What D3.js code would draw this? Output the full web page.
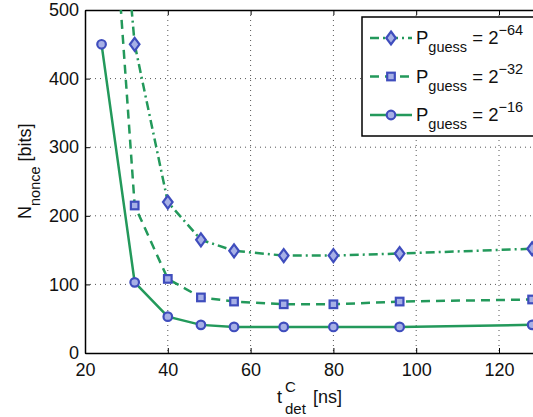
<!DOCTYPE html>
<html>
<head>
<meta charset="utf-8">
<script src="https://cdn.jsdelivr.net/npm/d3@7"></script>
<style>
  html, body { margin: 0; padding: 0; background: #fff; overflow: hidden; }
  svg { display: block; font-family: "Liberation Sans", Arial, sans-serif; }
</style>
</head>
<body>
<svg id="chart" width="533" height="417"></svg>
<script>
// detection time t_det^C [ns]
const tDet = [24, 32, 40, 48, 56, 68, 80, 96, 128];

// N_nonce [bits] per guessing probability
const n64 = [1000, 450, 220, 165, 149, 142, 142, 145, 152];
const n32 = [900, 215, 108, 81, 75, 71, 71, 75, 78];
const n16 = [450, 103, 53, 41, 38, 38, 38, 38, 41];

const xTicks = [20, 40, 60, 80, 100, 120];
const yTicks = [0, 100, 200, 300, 400, 500];

const series = [
    { exp: "\u221264", values: n64, marker: "diamond", dash: "9,4,2,4" },
    { exp: "\u221232", values: n32, marker: "square", dash: "9,6" },
    { exp: "\u221216", values: n16, marker: "circle", dash: null }
];

const GREEN = "#23995b";
const MSTROKE = "#3f4dbd";
const MFILL = "#a7b0e6";

const svg = d3.select("#chart");
const mLeft = 85, mTop = 10, mBottom = 353;

const x = d3.scaleLinear().domain([20, 130]).range([mLeft, mLeft + 110 * 4.14]);
const y = d3.scaleLinear().domain([0, 500]).range([mBottom, mTop]);
const mRight = x(130);

svg.append("defs").append("clipPath").attr("id", "clip")
    .append("rect")
    .attr("x", mLeft).attr("y", mTop)
    .attr("width", mRight - mLeft).attr("height", mBottom - mTop);

// grid
const grid = svg.append("g");
xTicks.slice(1).forEach(t => {
    grid.append("line")
        .attr("x1", x(t)).attr("x2", x(t))
        .attr("y1", mTop).attr("y2", mBottom)
        .attr("stroke", "#555").attr("stroke-width", 1)
        .attr("stroke-dasharray", "1,4");
});
yTicks.slice(1, -1).forEach(t => {
    grid.append("line")
        .attr("x1", mLeft).attr("x2", mRight)
        .attr("y1", y(t)).attr("y2", y(t))
        .attr("stroke", "#555").attr("stroke-width", 1)
        .attr("stroke-dasharray", "1,4");
});

// axes (ticks inside, mirrored)
const axisStyle = g => {
    g.select(".domain").attr("stroke", "#000").attr("stroke-width", 1.5);
    g.selectAll(".tick line").attr("stroke", "#000");
    g.selectAll(".tick text").attr("font-size", 18).attr("fill", "#111")
        .attr("font-family", "Liberation Sans, Arial, sans-serif");
};

svg.append("g")
    .attr("transform", `translate(0,${mBottom})`)
    .call(d3.axisBottom(x).tickValues(xTicks).tickSizeInner(-5).tickSizeOuter(0).tickPadding(10))
    .call(axisStyle);

svg.append("g")
    .attr("transform", `translate(0,${mTop})`)
    .call(d3.axisTop(x).tickValues(xTicks).tickSizeInner(-5).tickSizeOuter(0).tickFormat(""))
    .call(axisStyle);

svg.append("g")
    .attr("transform", `translate(${mLeft},0)`)
    .call(d3.axisLeft(y).tickValues(yTicks).tickSizeInner(-5).tickSizeOuter(0).tickPadding(6))
    .call(axisStyle);

svg.append("g")
    .attr("transform", `translate(${mRight},0)`)
    .call(d3.axisRight(y).tickValues(yTicks).tickSizeInner(-5).tickSizeOuter(0).tickFormat(""))
    .call(axisStyle);

// markers
function drawMarker(g, type, cx, cy) {
    if (type === "circle") {
        g.append("circle").attr("cx", cx).attr("cy", cy).attr("r", 4.3)
            .attr("fill", MFILL).attr("stroke", MSTROKE).attr("stroke-width", 2.2);
    } else if (type === "square") {
        g.append("rect").attr("x", cx - 3.8).attr("y", cy - 3.8).attr("width", 7.6).attr("height", 7.6)
            .attr("fill", MFILL).attr("stroke", MSTROKE).attr("stroke-width", 2.2);
    } else {
        const r = 6.5, w = 4.8;
        g.append("path")
            .attr("d", `M${cx},${cy - r}L${cx + w},${cy}L${cx},${cy + r}L${cx - w},${cy}Z`)
            .attr("fill", MFILL).attr("stroke", MSTROKE).attr("stroke-width", 2.2);
    }
}

const plot = svg.append("g").attr("clip-path", "url(#clip)");
const line = d3.line().x((d, i) => x(tDet[i])).y(d => y(d));

series.forEach(s => {
    plot.append("path")
        .datum(s.values)
        .attr("d", line)
        .attr("fill", "none")
        .attr("stroke", GREEN)
        .attr("stroke-width", 2.5)
        .attr("stroke-dasharray", s.dash);
});
const markerLayer = svg.append("g");
series.forEach(s => {
    s.values.forEach((v, i) => {
        if (v > 500) return;
        drawMarker(markerLayer, s.marker, x(tDet[i]), y(v));
    });
});

// legend
const lg = svg.append("g");
lg.append("rect")
    .attr("x", 362).attr("y", 17).attr("width", 200).attr("height", 119)
    .attr("fill", "#fff").attr("stroke", "#000").attr("stroke-width", 1.5);

series.forEach((s, i) => {
    const ly = 38 + i * 38.5;
    lg.append("line")
        .attr("x1", 370).attr("x2", 412).attr("y1", ly).attr("y2", ly)
        .attr("stroke", GREEN).attr("stroke-width", 2.5)
        .attr("stroke-dasharray", s.dash);
    drawMarker(lg, s.marker, 391, ly);
    const t = lg.append("text")
        .attr("x", 416).attr("y", ly + 6)
        .attr("font-size", 18.5).attr("fill", "#111");
    t.append("tspan").text("P");
    t.append("tspan").attr("font-size", 14.5).attr("dy", 8).text("guess");
    t.append("tspan").attr("dy", -8).text(" = 2");
    t.append("tspan").attr("font-size", 14.5).attr("dy", -9).text(s.exp);
});

// axis labels
const xLabel = svg.append("g").attr("fill", "#111");
xLabel.append("text").attr("x", 277).attr("y", 403).attr("font-size", 18).text("t");
xLabel.append("text").attr("x", 285).attr("y", 392).attr("font-size", 15).text("C");
xLabel.append("text").attr("x", 285).attr("y", 414).attr("font-size", 15).text("det");
xLabel.append("text").attr("x", 313).attr("y", 403).attr("font-size", 18).text("[ns]");

const yl = svg.append("text")
    .attr("transform", "translate(31,219) rotate(-90)")
    .attr("font-size", 18).attr("fill", "#111");
yl.append("tspan").text("N");
yl.append("tspan").attr("font-size", 14.5).attr("dy", 9).text("nonce");
yl.append("tspan").attr("dy", -9).text(" [bits]");
</script>
</body>
</html>
